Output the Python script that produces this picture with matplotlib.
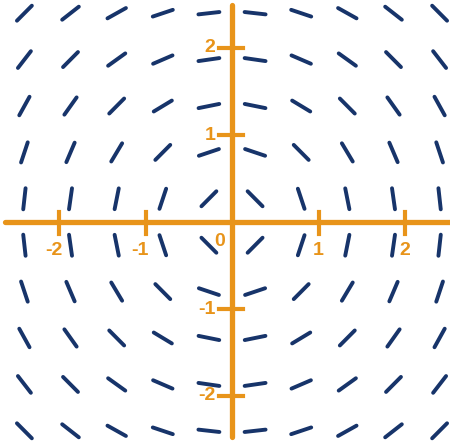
import numpy as np
import matplotlib.pyplot as plt
from matplotlib.collections import LineCollection

# Lưới điểm của trường hướng dy/dx = -x/y
grid_x = [-2.4, -1.867, -1.333, -0.8, -0.267, 0.267, 0.8, 1.333, 1.867, 2.4]
grid_y = [-2.4, -1.867, -1.333, -0.8, -0.267, 0.267, 0.8, 1.333, 1.867, 2.4]
ticks = [-2, -1, 1, 2]
tick_labels = ["-2", "-1", "1", "2"]

navy = "#17346a"
orange = "#e8941a"

fig = plt.figure(figsize=(4.5, 4.47), dpi=100)
ax = fig.add_axes([0, 0, 1, 1])
ax.set_xlim(-232 / 86.5, 218 / 86.5)
ax.set_ylim(-225 / 87, 222 / 87)
ax.axis("off")

# Các đoạn thẳng độ dốc
half = 0.122
segs = []
for x in grid_x:
    for y in grid_y:
        m = -x / y
        dx = half / np.sqrt(1 + m * m)
        dy = m * dx
        segs.append([(x - dx, y - dy), (x + dx, y + dy)])
ax.add_collection(LineCollection(segs, colors=navy, linewidths=2.8, capstyle="round", zorder=2))

# Trục tọa độ
ax.plot([-2.62, 2.52], [0, 0], color=orange, lw=3.8, solid_capstyle="round", zorder=3)
ax.plot([0, 0], [-2.47, 2.49], color=orange, lw=3.8, solid_capstyle="round", zorder=3)

font = dict(color=orange, fontsize=14, fontweight="bold", family="Liberation Sans")
for t, lab in zip(ticks, tick_labels):
    ax.plot([t, t], [-0.14, 0.12], color=orange, lw=3, zorder=3)
    ax.plot([-0.15, 0.13], [t, t], color=orange, lw=3, zorder=3)
    if t < 0:
        ax.text(t + 0.04, -0.33, lab, ha="right", va="center", **font)
    else:
        ax.text(t, -0.33, lab, ha="center", va="center", **font)
    ax.text(-0.19, t, lab, ha="right", va="center", **font)

ax.text(-0.14, -0.22, "0", ha="center", va="center", **font)

fig.savefig("out.png", dpi=100)
